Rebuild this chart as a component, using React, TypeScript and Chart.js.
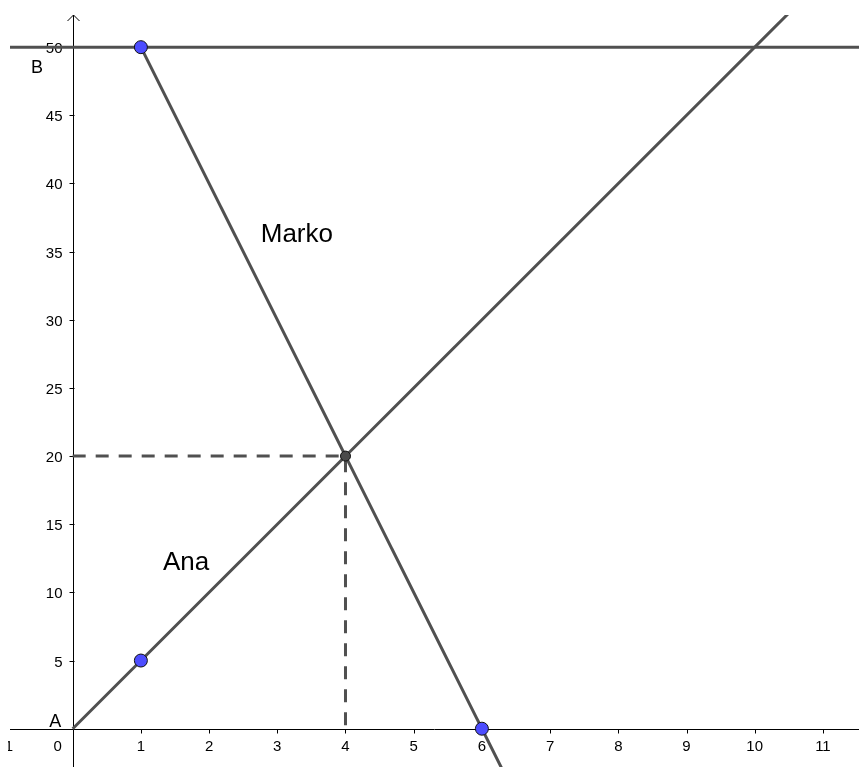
import React, { useEffect, useRef } from 'react';
import { Chart, registerables } from 'chart.js';

Chart.register(...registerables);

// Tick labels
const xTicks = [-1, 0, 1, 2, 3, 4, 5, 6, 7, 8, 9, 10, 11];
const yTicks = [5, 10, 15, 20, 25, 30, 35, 40, 45, 50];

// Lines (segment endpoints, data units)
const anaLine = [{ x: 0, y: 0 }, { x: 11, y: 55 }];
const markoLine = [{ x: 1, y: 50 }, { x: 7, y: -10 }];
const bLine = [{ x: -2, y: 50 }, { x: 13, y: 50 }];
const dashedGuide = [{ x: 0, y: 20 }, { x: 4, y: 20 }, { x: 4, y: 0 }];

// Points
const bluePoints = [{ x: 1, y: 50 }, { x: 1, y: 5 }, { x: 6, y: 0 }];
const intersection = [{ x: 4, y: 20 }];

// Text labels (data coordinates of left/baseline)
const textLabels = [
  { text: 'Marko', x: 2.757, y: 35.69, size: 26 },
  { text: 'Ana', x: 1.323, y: 11.61, size: 26 },
  { text: 'B', x: -0.611, y: 48.13, size: 18 },
  { text: 'A', x: -0.343, y: 0.147, size: 18 },
];

const FONT = "'Liberation Sans', Arial, sans-serif";
const LINE = '#505050';

const axesPlugin = {
  id: 'geoAxes',
  beforeDatasetsDraw(chart: any) {
    const { ctx, chartArea } = chart;
    const xs = chart.scales.x;
    const ys = chart.scales.y;
    const x0 = Math.round(xs.getPixelForValue(0)) + 0.5;
    const y0 = Math.round(ys.getPixelForValue(0)) + 0.5;
    ctx.save();
    ctx.strokeStyle = '#000';
    ctx.lineWidth = 1;
    // x axis
    ctx.beginPath();
    ctx.moveTo(chartArea.left, y0);
    ctx.lineTo(chartArea.right, y0);
    ctx.stroke();
    // y axis
    ctx.beginPath();
    ctx.moveTo(x0, chartArea.top);
    ctx.lineTo(x0, chart.height);
    ctx.stroke();
    // arrow
    ctx.beginPath();
    ctx.moveTo(x0 - 6, chartArea.top + 6);
    ctx.lineTo(x0, chartArea.top);
    ctx.lineTo(x0 + 6, chartArea.top + 6);
    ctx.stroke();

    ctx.fillStyle = '#000';
    ctx.font = `15px ${FONT}`;
    // x ticks (clipped to the graphics view on the left)
    ctx.save();
    ctx.beginPath();
    ctx.rect(chartArea.left - 2, 0, chart.width - chartArea.left + 2, chart.height);
    ctx.clip();
    ctx.textAlign = 'center';
    ctx.textBaseline = 'alphabetic';
    for (const t of xTicks) {
      const px = xs.getPixelForValue(t);
      if (t !== 0) {
        ctx.beginPath();
        ctx.moveTo(Math.round(px) + 0.5, y0);
        ctx.lineTo(Math.round(px) + 0.5, y0 + 4);
        ctx.stroke();
      }
      const label = t < 0 ? '\u2212' + Math.abs(t) : String(t);
      ctx.fillText(label, t === 0 ? px - 15 : px, y0 + 21);
    }
    ctx.restore();
    // y ticks
    ctx.textAlign = 'right';
    ctx.textBaseline = 'alphabetic';
    for (const t of yTicks) {
      const py = Math.round(ys.getPixelForValue(t)) + 0.5;
      ctx.beginPath();
      ctx.moveTo(x0 - 4, py);
      ctx.lineTo(x0 + 1, py);
      ctx.stroke();
      ctx.fillText(String(t), x0 - 11, py + 5.5);
    }
    ctx.restore();
  },
  afterDatasetsDraw(chart: any) {
    const { ctx } = chart;
    const xs = chart.scales.x;
    const ys = chart.scales.y;
    ctx.save();
    ctx.fillStyle = '#000';
    ctx.textAlign = 'left';
    ctx.textBaseline = 'alphabetic';
    for (const l of textLabels) {
      ctx.font = `${l.size}px ${FONT}`;
      ctx.fillText(l.text, xs.getPixelForValue(l.x), ys.getPixelForValue(l.y));
    }
    ctx.restore();
  },
};

export default function App() {
  const ref = useRef<HTMLCanvasElement | null>(null);
  useEffect(() => {
    if (!ref.current) return;
    const chart = new Chart(ref.current, {
      type: 'scatter',
      data: {
        datasets: [
          {
            label: 'intersection',
            data: intersection,
            showLine: false,
            pointRadius: 5,
            pointBackgroundColor: '#4a4a4a',
            pointBorderColor: '#111',
            borderWidth: 1,
          },
          {
            label: 'points',
            data: bluePoints,
            showLine: false,
            pointRadius: 6.5,
            pointBackgroundColor: '#4d4dff',
            pointBorderColor: '#111',
            borderWidth: 1,
          },
          {
            label: 'Marko',
            data: markoLine,
            showLine: true,
            borderColor: LINE,
            borderWidth: 3,
            pointRadius: 0,
          },
          {
            label: 'Ana',
            data: anaLine,
            showLine: true,
            borderColor: LINE,
            borderWidth: 3,
            pointRadius: 0,
          },
          {
            label: 'B',
            data: bLine,
            showLine: true,
            borderColor: LINE,
            borderWidth: 3,
            pointRadius: 0,
          },
          {
            label: 'guide',
            data: dashedGuide,
            showLine: true,
            borderColor: LINE,
            borderWidth: 3,
            borderDash: [13, 10],
            pointRadius: 0,
          },
        ] as any,
      },
      options: {
        animation: false,
        responsive: false,
        events: [],
        layout: { autoPadding: false, padding: { left: 10, top: 15, right: 0, bottom: 0 } },
        plugins: { legend: { display: false }, tooltip: { enabled: false } },
        scales: {
          x: { type: 'linear', min: -0.919, max: 11.529, display: false },
          y: { type: 'linear', min: -2.81, max: 52.36, display: false },
        },
      },
      plugins: [axesPlugin],
    });
    return () => chart.destroy();
  }, []);
  return (
    <div style={{ width: 859, height: 767, background: '#fff', overflow: 'hidden' }}>
      <style>{'html,body{margin:0;padding:0;overflow:hidden;background:#fff}'}</style>
      <canvas ref={ref} width={859} height={767} style={{ display: 'block', width: 859, height: 767 }} />
    </div>
  );
}
